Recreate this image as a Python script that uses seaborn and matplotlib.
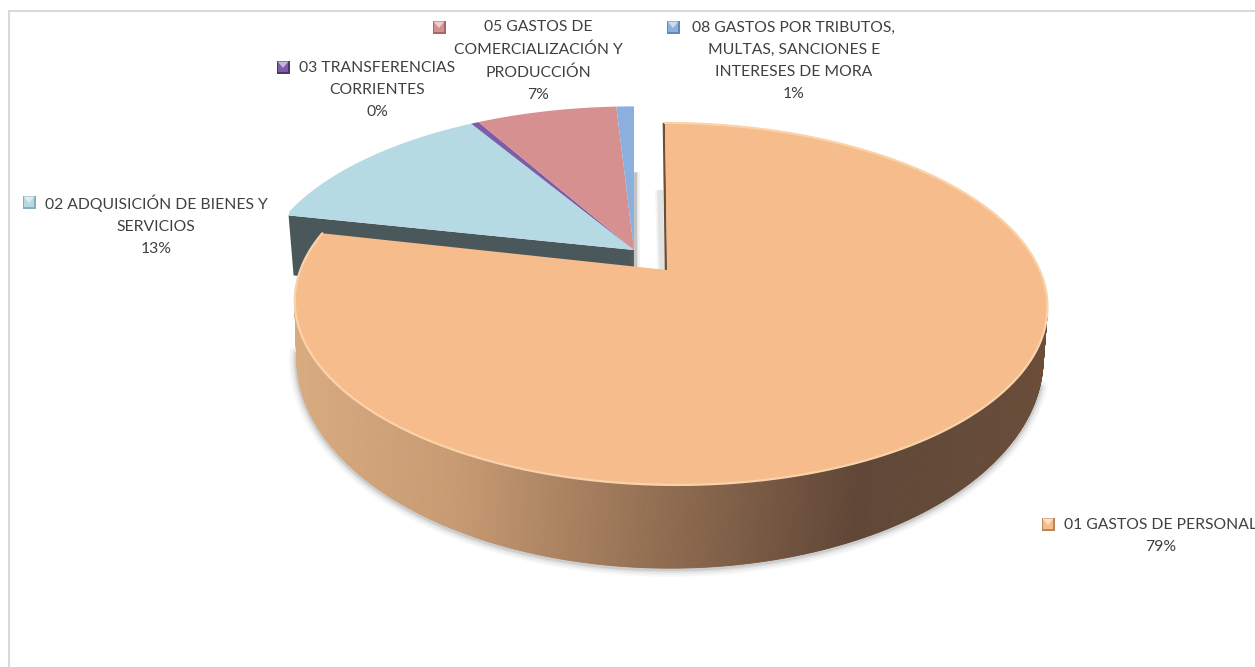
import numpy as np
import matplotlib.pyplot as plt
import matplotlib.colors as mcolors
from matplotlib.patches import Rectangle, Polygon
import seaborn as sns

names = ['01 GASTOS DE PERSONAL', '02 ADQUISICIÓN DE BIENES Y\nSERVICIOS',
         '03 TRANSFERENCIAS\nCORRIENTES', '05 GASTOS DE\nCOMERCIALIZACIÓN Y\nPRODUCCIÓN',
         '08 GASTOS POR TRIBUTOS,\nMULTAS, SANCIONES E\nINTERESES DE MORA']
values = [78.6, 12.9, 0.4, 7.2, 0.9]
colors = ['#F6BC8C', '#B5DAE3', '#7D5CA8', '#D69090', '#8BB0DE']
key_dark = ['#B9875A', '#86AEBB', '#4E3472', '#A86666', '#5F8AB8']
label_xy = [(1161, 536), (156, 225), (377, 90), (538, 61), (794, 61)]
key_xy = [(1048, 524), (29, 202), (283, 67), (439, 27), (673, 27)]

sns.set_theme(style='white')
plt.rcParams['font.family'] = ['Lato', 'DejaVu Sans']

# perspective of the pie disc, in pixels
K = 0.182
RX = 370
RY = 175


def rim(theta, x0, y0, rx=RX, ry=RY, shear=0):
    u, v = np.sin(theta), -np.cos(theta)
    d = 1 - K * v
    return x0 + rx * u / d + shear * v / d, y0 + ry * v / d


def lower_rim(theta, x0, y0):
    return rim(theta, x0 + 3, y0 + 50, RX - 3, 203)


def big_rim(theta, x0, y0):
    return rim(theta, x0 + 3, y0 + 1, shear=6)


fig = plt.figure(figsize=(12.55, 6.67), dpi=100)
ax = fig.add_axes([0, 0, 1, 1])
ax.set_xlim(0, 1255)
ax.set_ylim(667, 0)
ax.axis('off')

ax.plot([9, 9, 1255], [667, 11, 11], color='#D9D9D9', lw=1.5, zorder=1)

edges = 2 * np.pi * np.cumsum([0] + values) / sum(values)
ox, oy = 667, 270   # apex of the pulled out slice
bx, by = 634, 250   # apex of the other slices
back_ry = RY * 0.97

# back group, wall first
t0 = edges[1]
top_x, top_y = rim(t0, bx + 1, by + 2, ry=back_ry)
low_x, low_y = rim(t0, bx + 6, by + 62, ry=back_ry)
ax.add_patch(Polygon([(bx, by), (top_x, top_y), (low_x, low_y), (bx, by + 62)],
                     color='#4A585C', lw=0, zorder=1))
for w, a in [(7, 0.1), (4, 0.16), (2, 0.25)]:
    ax.plot([bx + 1, bx + 1], [by - 78, by + 18], color='#777777', lw=w, alpha=a,
            solid_capstyle='butt', zorder=1)
for i in range(1, len(values)):
    th = np.linspace(edges[i], edges[i + 1], 60)
    x, y = rim(th, bx, by, ry=back_ry)
    if i == 1:
        x[0], y[0] = top_x, top_y
    ax.fill(np.r_[bx, x], np.r_[by, y], color=colors[i], lw=0, zorder=1)

# shadow under the big slice
th = np.linspace(np.pi * 0.6, np.pi * 1.45, 300)
sx, sy = lower_rim(th, ox, oy)
for w, a in [(11, 0.05), (8, 0.07), (5, 0.1), (3, 0.15)]:
    ax.plot(sx, sy + 1, color='#666666', lw=w, alpha=a, zorder=1)

# side of the big slice with its left-right gradient
cmap = mcolors.LinearSegmentedColormap.from_list(
    'side', [(0, '#D9AB80'), (0.22, '#C79A72'), (0.5, '#8F6C50'),
             (0.75, '#604636'), (0.9, '#644A38'), (1, '#6A4E3A')])
th = np.linspace(edges[0], edges[1], 900)
ux, uy = big_rim(th, ox, oy)
lx, ly = lower_rim(th, ox, oy)
for j in range(len(th) - 1):
    xs = [ux[j], ux[j + 1], lx[j + 1], lx[j]]
    ys = [uy[j], uy[j + 1], ly[j + 1], ly[j]]
    c = cmap((ux[j] - 293) / (1048 - 293))
    ax.fill(xs, ys, color=c, lw=0.6, ec=c, zorder=1)

# thin wall and shadow at the 12 o'clock cut
for w, a in [(7, 0.08), (4, 0.14)]:
    ax.plot([ox - 7, ox - 5], [oy - 80, oy], color='#777777', lw=w, alpha=a,
            solid_capstyle='butt', zorder=1)
ax.plot([big_rim(0, ox, oy)[0] - 1, ox - 1], [big_rim(0, ox, oy)[1], oy], color='#6B5038', lw=1.8,
        solid_capstyle='butt', zorder=1)

# top of the big slice
th = np.linspace(edges[0], edges[1], 400)
x, y = big_rim(th, ox, oy)
ax.fill(np.r_[ox, x], np.r_[oy, y], color=colors[0], lw=0, zorder=1)
ax.plot(x, y, color='#FBD3AB', lw=1.6, zorder=1)

# labels and their little bevelled keys
for i in range(len(values)):
    ax.text(label_xy[i][0], label_xy[i][1], f'{names[i]}\n{round(values[i])}%',
            ha='center', va='center', color='#404040', fontsize=11.3, linespacing=1.75,
            clip_on=True)
    kx, ky = key_xy[i]
    s = 6.5
    light = tuple(0.45 * np.array(mcolors.to_rgb(colors[i])) + 0.55)
    ax.add_patch(Rectangle((kx - s, ky - s), 2 * s, 2 * s, color=key_dark[i], lw=0, zorder=2))
    ax.add_patch(Rectangle((kx - s + 1.5, ky - s + 1), 2 * s - 3, 2 * s - 3, color=colors[i], lw=0, zorder=2))
    ax.add_patch(Polygon([(kx - s + 1, ky - s + 1), (kx + s - 1, ky - s + 1), (kx, ky + 1)],
                         color=light, lw=0, zorder=2))

fig.savefig('out.png', dpi=100)
